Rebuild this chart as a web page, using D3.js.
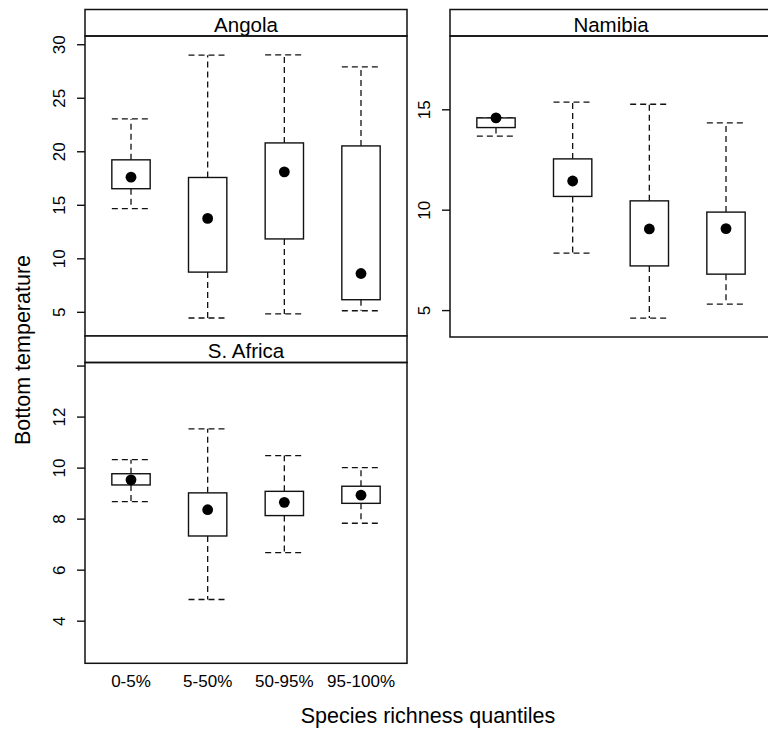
<!DOCTYPE html>
<html>
<head>
<meta charset="utf-8">
<script src="https://cdn.jsdelivr.net/npm/d3@7"></script>
<style>
  body { margin: 0; background: #fff; }
  svg { display: block; font-family: "Liberation Sans", Arial, sans-serif; }
</style>
</head>
<body>
<svg id="chart" width="768" height="730"></svg>
<script>
const categories = ['0-5%', '5-50%', '50-95%', '95-100%']
// per quantile: [low whisker, q1, median, q3, high whisker]
const angola = [
  [14.64, 16.5, 17.58, 19.2, 23.02],
  [4.42, 8.71, 13.73, 17.55, 28.98],
  [4.8, 11.81, 18.08, 20.78, 29.0],
  [5.1, 6.13, 8.58, 20.5, 27.89]
]
const namibia = [
  [13.66, 14.09, 14.57, 14.57, 14.57],
  [7.84, 10.66, 11.43, 12.53, 15.36],
  [4.6, 7.2, 9.04, 10.44, 15.25],
  [5.3, 6.79, 9.06, 9.88, 14.32]
]
const safrica = [
  [8.67, 9.32, 9.52, 9.76, 10.31],
  [4.83, 7.32, 8.35, 9.01, 11.52],
  [6.67, 8.12, 8.64, 9.07, 10.47],
  [7.82, 8.6, 8.92, 9.27, 10.0]
]
const angolaTicks = [5, 10, 15, 20, 25, 30]
const namibiaTicks = [5, 10, 15]
const safricaTicks = [4, 6, 8, 10, 12, 14]
// y limits of each panel (lattice pads the data range)
const angolaLim = [2.74, 30.77]
const namibiaLim = [3.66, 18.65]
const safricaLim = [2.33, 14.12]

const panelW = 322
const stripH = 26.5
const dash = '6,4'

const svg = d3.select('#chart')

const panels = [
  { name: 'Angola', data: angola, ticks: angolaTicks, lim: angolaLim, x: 85, y: 9.5, h: 326.5, xLabels: false },
  { name: 'Namibia', data: namibia, ticks: namibiaTicks, lim: namibiaLim, x: 450, y: 9.5, h: 327.5, xLabels: false },
  { name: 'S. Africa', data: safrica, ticks: safricaTicks, lim: safricaLim, x: 85, y: 336, h: 327.3, xLabels: true }
]

const x = d3.scaleBand()
  .domain(categories)
  .range([0, panelW])
  .paddingInner(0.5)
  .paddingOuter(0.35)

panels.forEach(p => {
  const g = svg.append('g').attr('transform', `translate(${p.x},${p.y})`)
  const plotH = p.h - stripH
  const y = d3.scaleLinear().domain(p.lim).range([p.h, stripH])

  // strip
  g.append('rect')
    .attr('width', panelW).attr('height', stripH)
    .attr('fill', '#fff').attr('stroke', '#111').attr('stroke-width', 1.5)
  g.append('text')
    .attr('x', panelW / 2).attr('y', stripH - 4.5)
    .attr('text-anchor', 'middle')
    .attr('font-size', 20.5)
    .text(p.name)

  // panel border
  g.append('rect')
    .attr('y', stripH).attr('width', panelW).attr('height', plotH)
    .attr('fill', 'none').attr('stroke', '#111').attr('stroke-width', 1.5)

  // y axis, labels rotated like R
  const yAxis = g.append('g')
    .call(d3.axisLeft(y)
      .tickValues(p.ticks)
      .tickSize(8)
      .tickFormat(d => (y(d) - stripH < 5 ? '' : d)))
  yAxis.select('.domain').remove()
  yAxis.selectAll('line').attr('stroke', '#111').attr('stroke-width', 1.4)
  yAxis.selectAll('text')
    .attr('x', null).attr('dy', null)
    .attr('transform', 'translate(-20.5,0) rotate(-90)')
    .attr('text-anchor', 'middle')
    .attr('font-size', 17)
    .attr('font-family', '"Liberation Sans", Arial, sans-serif')
    .attr('fill', '#000')

  if (p.xLabels) {
    const xAxis = g.append('g')
      .attr('transform', `translate(0,${p.h})`)
      .call(d3.axisBottom(x).tickSize(0).tickPadding(11.5))
    xAxis.select('.domain').remove()
    xAxis.selectAll('text')
      .attr('font-size', 17)
      .attr('font-family', '"Liberation Sans", Arial, sans-serif')
      .attr('fill', '#000')
  }

  const boxes = g.selectAll('.box')
    .data(p.data.map((s, i) => ({ cat: categories[i], s })))
    .enter().append('g').attr('class', 'box')

  const cx = d => x(d.cat) + x.bandwidth() / 2

  // whiskers
  boxes.append('line')
    .attr('x1', cx).attr('x2', cx)
    .attr('y1', d => y(d.s[3])).attr('y2', d => y(d.s[4]))
    .attr('stroke', '#111').attr('stroke-width', 1.3).attr('stroke-dasharray', dash)
  boxes.append('line')
    .attr('x1', cx).attr('x2', cx)
    .attr('y1', d => y(d.s[1])).attr('y2', d => y(d.s[0]))
    .attr('stroke', '#111').attr('stroke-width', 1.3).attr('stroke-dasharray', dash)
  // caps
  ;[0, 4].forEach(k => {
    boxes.append('line')
      .attr('x1', d => x(d.cat)).attr('x2', d => x(d.cat) + x.bandwidth())
      .attr('y1', d => y(d.s[k])).attr('y2', d => y(d.s[k]))
      .attr('stroke', '#111').attr('stroke-width', 1.3).attr('stroke-dasharray', dash)
  })
  // box
  boxes.append('rect')
    .attr('x', d => x(d.cat)).attr('width', x.bandwidth())
    .attr('y', d => y(d.s[3])).attr('height', d => y(d.s[1]) - y(d.s[3]))
    .attr('fill', '#fff').attr('stroke', '#111').attr('stroke-width', 1.4)
  // median dot
  boxes.append('circle')
    .attr('cx', cx).attr('cy', d => y(d.s[2])).attr('r', 5.4)
    .attr('fill', '#000')
})

// axis titles
svg.append('text')
  .attr('x', 428).attr('y', 723)
  .attr('text-anchor', 'middle')
  .attr('font-size', 21.5)
  .text('Species richness quantiles')

svg.append('text')
  .attr('transform', 'translate(30,350) rotate(-90)')
  .attr('text-anchor', 'middle')
  .attr('font-size', 21.5)
  .text('Bottom temperature')
</script>
</body>
</html>
